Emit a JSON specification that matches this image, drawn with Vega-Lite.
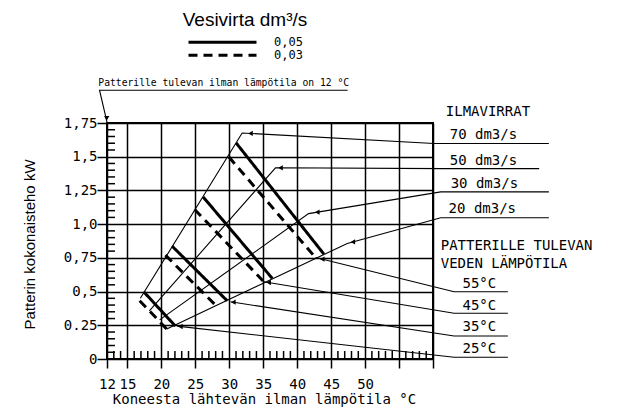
{
  "$schema": "https://vega.github.io/schema/vega-lite/v6.json",
  "width": 326,
  "height": 236,
  "autosize": {"type": "none"},
  "padding": {"left": 107, "top": 123, "right": 188, "bottom": 51},
  "background": "white",
  "config": {
    "view": {"stroke": "black", "strokeWidth": 2},
    "font": "DejaVu Sans Mono"
  },
  "resolve": {"axis": {"x": "independent", "y": "independent"}},
  "layer": [
    {
      "data": {"values": [
        {"temp": "55", "flow": "0,05", "x": 31.02, "y": 1.602}, {"temp": "55", "flow": "0,05", "x": 43.93, "y": 0.778},
        {"temp": "55", "flow": "0,03", "x": 29.93, "y": 1.499}, {"temp": "55", "flow": "0,03", "x": 42.7, "y": 0.752},
        {"temp": "45", "flow": "0,05", "x": 26.15, "y": 1.202}, {"temp": "45", "flow": "0,05", "x": 36.33, "y": 0.598},
        {"temp": "45", "flow": "0,03", "x": 24.91, "y": 1.109}, {"temp": "45", "flow": "0,03", "x": 35.09, "y": 0.573},
        {"temp": "35", "flow": "0,05", "x": 21.58, "y": 0.837}, {"temp": "35", "flow": "0,05", "x": 29.69, "y": 0.432},
        {"temp": "35", "flow": "0,03", "x": 20.6, "y": 0.77}, {"temp": "35", "flow": "0,03", "x": 28.11, "y": 0.393},
        {"temp": "25", "flow": "0,05", "x": 17.4, "y": 0.499}, {"temp": "25", "flow": "0,05", "x": 22.07, "y": 0.244},
        {"temp": "25", "flow": "0,03", "x": 16.81, "y": 0.432}, {"temp": "25", "flow": "0,03", "x": 20.93, "y": 0.215}
      ]},
      "mark": {"type": "line", "strokeWidth": 3, "color": "black", "strokeCap": "butt"},
      "encoding": {
        "x": {"field": "x", "type": "quantitative", "scale": {"domain": [12, 60], "nice": false, "zero": false},
          "axis": {"orient": "bottom", "values": [12, 15, 20, 25, 30, 35, 40, 45, 50, 55, 60],
            "labelExpr": "datum.value > 50 ? '' : datum.value + ''",
            "title": "Koneesta lähtevän ilman lämpötila °C",
            "grid": true, "gridColor": "black", "gridWidth": 1.5, "gridOpacity": 1,
            "domain": false, "tickColor": "black", "tickWidth": 1.5, "tickSize": 9,
            "labelPadding": 9, "labelFont": "DejaVu Sans Mono", "labelFontSize": 14, "labelColor": "black",
            "labelOverlap": false, "labelFlush": false, "labelBound": false,
            "titleFont": "DejaVu Sans Mono", "titleFontSize": 14, "titleFontWeight": "normal", "titleColor": "black",
            "titleX": 157, "titleY": 33}},
        "y": {"field": "y", "type": "quantitative", "scale": {"domain": [0, 1.75], "nice": false, "zero": false},
          "axis": {"orient": "left", "values": [0, 0.25, 0.5, 0.75, 1, 1.25, 1.5, 1.75],
            "labelExpr": "datum.value == 0 ? '0' : datum.value == 0.25 ? '0.25' : datum.value == 0.5 ? '0,5' : datum.value == 0.75 ? '0,75' : datum.value == 1 ? '1,0' : datum.value == 1.25 ? '1,25' : datum.value == 1.5 ? '1,5' : '1,75'",
            "title": "Patterin kokonaisteho kW",
            "grid": true, "gridColor": "black", "gridWidth": 1.5, "gridOpacity": 1,
            "domain": false, "tickColor": "black", "tickWidth": 1.5, "tickSize": 10,
            "labelPadding": 0, "labelFont": "DejaVu Sans Mono", "labelFontSize": 14, "labelColor": "black",
            "labelOverlap": false, "labelFlush": false, "labelBound": false,
            "titleFont": "Liberation Sans", "titleFontSize": 15, "titleFontWeight": "normal", "titleColor": "black",
            "titleX": -70, "titleY": 121}},
        "detail": {"field": "temp"},
        "strokeDash": {"field": "flow", "type": "nominal",
          "scale": {"domain": ["0,05", "0,03"], "range": [[1, 0], [9, 6]]},
          "legend": {"orient": "none", "legendX": 76, "legendY": -112,
            "title": "Vesivirta dm³/s", "titleFont": "Liberation Sans", "titleFontSize": 19, "titleFontWeight": "normal",
            "titleColor": "black", "titleAnchor": "middle", "titlePadding": 6,
            "symbolType": "stroke", "symbolSize": 4624, "symbolStrokeWidth": 3, "symbolStrokeColor": "black",
            "labelFont": "DejaVu Sans Mono", "labelFontSize": 12, "labelColor": "black", "labelOffset": 16,
            "clipHeight": 12.3, "rowPadding": 0, "padding": 0, "symbolOffset": 0}}
      }
    },
    {
      "data": {"values": [
        {"id": "r70", "o": 1, "x": 16.91, "y": 0.45}, {"id": "r70", "o": 2, "x": 31.9, "y": 1.676}, {"id": "r70", "o": 3, "x": 60.15, "y": 1.598}, {"id": "r70", "o": 4, "x": 77.06, "y": 1.598},
        {"id": "r50", "o": 1, "x": 18.24, "y": 0.357}, {"id": "r50", "o": 2, "x": 36.81, "y": 1.418}, {"id": "r50", "o": 3, "x": 61.58, "y": 1.412}, {"id": "r50", "o": 4, "x": 75.63, "y": 1.412},
        {"id": "r30", "o": 1, "x": 19.75, "y": 0.29}, {"id": "r30", "o": 2, "x": 41.68, "y": 1.078}, {"id": "r30", "o": 3, "x": 61.14, "y": 1.239}, {"id": "r30", "o": 4, "x": 77.06, "y": 1.239},
        {"id": "r20", "o": 1, "x": 20.8, "y": 0.222}, {"id": "r20", "o": 2, "x": 47.38, "y": 0.857}, {"id": "r20", "o": 3, "x": 61.14, "y": 1.047}, {"id": "r20", "o": 4, "x": 77.06, "y": 1.047},
        {"id": "t55", "o": 1, "x": 42.71, "y": 0.752}, {"id": "t55", "o": 2, "x": 63.1, "y": 0.499}, {"id": "t55", "o": 3, "x": 71.02, "y": 0.499},
        {"id": "t45", "o": 1, "x": 35.09, "y": 0.573}, {"id": "t45", "o": 2, "x": 63.1, "y": 0.339}, {"id": "t45", "o": 3, "x": 71.02, "y": 0.339},
        {"id": "t35", "o": 1, "x": 30.18, "y": 0.424}, {"id": "t35", "o": 2, "x": 63.1, "y": 0.17}, {"id": "t35", "o": 3, "x": 71.02, "y": 0.17},
        {"id": "t25", "o": 1, "x": 22.32, "y": 0.244}, {"id": "t25", "o": 2, "x": 63.1, "y": 0.013}, {"id": "t25", "o": 3, "x": 71.02, "y": 0.013},
        {"id": "note", "o": 1, "x": 47.43, "y": 1.993}, {"id": "note", "o": 2, "x": 10.9, "y": 1.993}, {"id": "note", "o": 3, "x": 12.0, "y": 1.757}
      ]},
      "mark": {"type": "line", "strokeWidth": 1.1, "color": "black"},
      "encoding": {
        "x": {"field": "x", "type": "quantitative", "scale": {"domain": [12, 60], "nice": false, "zero": false}, "axis": null},
        "y": {"field": "y", "type": "quantitative", "scale": {"domain": [0, 1.75], "nice": false, "zero": false}, "axis": null},
        "detail": {"field": "id"},
        "order": {"field": "o"}
      }
    },
    {
      "data": {"values": [
        {"id": "70", "x": 33.13, "y": 1.673},
        {"id": "50", "x": 37.55, "y": 1.418},
        {"id": "30", "x": 42.96, "y": 1.089},
        {"id": "20", "x": 48.2, "y": 0.868},
        {"id": "55", "x": 43.7, "y": 0.74},
        {"id": "45", "x": 35.8, "y": 0.567},
        {"id": "35", "x": 30.6, "y": 0.421},
        {"id": "25", "x": 22.8, "y": 0.241}
      ]},
      "mark": {"type": "point", "shape": "triangle-left", "size": 28, "filled": true, "color": "black", "opacity": 1},
      "encoding": {
        "x": {"field": "x", "type": "quantitative", "scale": {"domain": [12, 60], "nice": false, "zero": false}, "axis": null},
        "y": {"field": "y", "type": "quantitative", "scale": {"domain": [0, 1.75], "nice": false, "zero": false}, "axis": null}
      }
    },
    {
      "data": {"values": [
        {"id": "note", "x": 11.96, "y": 1.785}
      ]},
      "mark": {"type": "point", "shape": "triangle-down", "size": 28, "filled": true, "color": "black", "opacity": 1},
      "encoding": {
        "x": {"field": "x", "type": "quantitative", "scale": {"domain": [12, 60], "nice": false, "zero": false}, "axis": null},
        "y": {"field": "y", "type": "quantitative", "scale": {"domain": [0, 1.75], "nice": false, "zero": false}, "axis": null}
      }
    },
    {
      "data": {"values": [
        {"v": 13}, {"v": 14}, {"v": 16}, {"v": 17}, {"v": 18}, {"v": 19}, {"v": 21}, {"v": 22}, {"v": 23}, {"v": 24},
        {"v": 26}, {"v": 27}, {"v": 28}, {"v": 29}, {"v": 31}, {"v": 32}, {"v": 33}, {"v": 34}, {"v": 36}, {"v": 37},
        {"v": 38}, {"v": 39}, {"v": 41}, {"v": 42}, {"v": 43}, {"v": 44}, {"v": 46}, {"v": 47}, {"v": 48}, {"v": 49},
        {"v": 51}, {"v": 52}, {"v": 53}, {"v": 54}, {"v": 56}, {"v": 57}, {"v": 58}, {"v": 59}
      ]},
      "mark": {"type": "tick", "orient": "vertical", "size": 8, "thickness": 1.5, "color": "black", "opacity": 1, "yOffset": -4},
      "encoding": {
        "x": {"field": "v", "type": "quantitative", "scale": {"domain": [12, 60], "nice": false, "zero": false}, "axis": null},
        "y": {"datum": 0, "type": "quantitative", "scale": {"domain": [0, 1.75], "nice": false, "zero": false}, "axis": null}
      }
    },
    {
      "data": {"values": [
        {"v": 0.05}, {"v": 0.1}, {"v": 0.15}, {"v": 0.2}, {"v": 0.3}, {"v": 0.35}, {"v": 0.4}, {"v": 0.45},
        {"v": 0.55}, {"v": 0.6}, {"v": 0.65}, {"v": 0.7}, {"v": 0.8}, {"v": 0.85}, {"v": 0.9}, {"v": 0.95},
        {"v": 1.05}, {"v": 1.1}, {"v": 1.15}, {"v": 1.2}, {"v": 1.3}, {"v": 1.35}, {"v": 1.4}, {"v": 1.45},
        {"v": 1.55}, {"v": 1.6}, {"v": 1.65}, {"v": 1.7}
      ]},
      "mark": {"type": "tick", "orient": "horizontal", "size": 8, "thickness": 1.5, "color": "black", "opacity": 1, "xOffset": 4},
      "encoding": {
        "x": {"datum": 12, "type": "quantitative", "scale": {"domain": [12, 60], "nice": false, "zero": false}, "axis": null},
        "y": {"field": "v", "type": "quantitative", "scale": {"domain": [0, 1.75], "nice": false, "zero": false}, "axis": null}
      }
    },
    {
      "data": {"values": [
        {"t": "ILMAVIRRAT", "x": 61.88, "y": 1.8},
        {"t": "70 dm3/s", "x": 62.46, "y": 1.63},
        {"t": "50 dm3/s", "x": 62.46, "y": 1.441},
        {"t": "30 dm3/s", "x": 62.6, "y": 1.27},
        {"t": "20 dm3/s", "x": 62.3, "y": 1.085},
        {"t": "PATTERILLE TULEVAN", "x": 61.14, "y": 0.811},
        {"t": "VEDEN LÄMPÖTILA", "x": 61.14, "y": 0.678},
        {"t": "55°C", "x": 64.34, "y": 0.526},
        {"t": "45°C", "x": 64.34, "y": 0.367},
        {"t": "35°C", "x": 64.34, "y": 0.206},
        {"t": "25°C", "x": 64.34, "y": 0.046}
      ]},
      "mark": {"type": "text", "align": "left", "baseline": "alphabetic", "font": "DejaVu Sans Mono", "fontSize": 14, "color": "black"},
      "encoding": {
        "x": {"field": "x", "type": "quantitative", "scale": {"domain": [12, 60], "nice": false, "zero": false}, "axis": null},
        "y": {"field": "y", "type": "quantitative", "scale": {"domain": [0, 1.75], "nice": false, "zero": false}, "axis": null},
        "text": {"field": "t"}
      }
    },
    {
      "data": {"values": [
        {"t": "Patterille tulevan ilman lämpötila on 12 °C", "x": 10.72, "y": 2.022}
      ]},
      "mark": {"type": "text", "align": "left", "baseline": "alphabetic", "font": "DejaVu Sans Mono", "fontSize": 9.7, "color": "black"},
      "encoding": {
        "x": {"field": "x", "type": "quantitative", "scale": {"domain": [12, 60], "nice": false, "zero": false}, "axis": null},
        "y": {"field": "y", "type": "quantitative", "scale": {"domain": [0, 1.75], "nice": false, "zero": false}, "axis": null},
        "text": {"field": "t"}
      }
    }
  ]
}
